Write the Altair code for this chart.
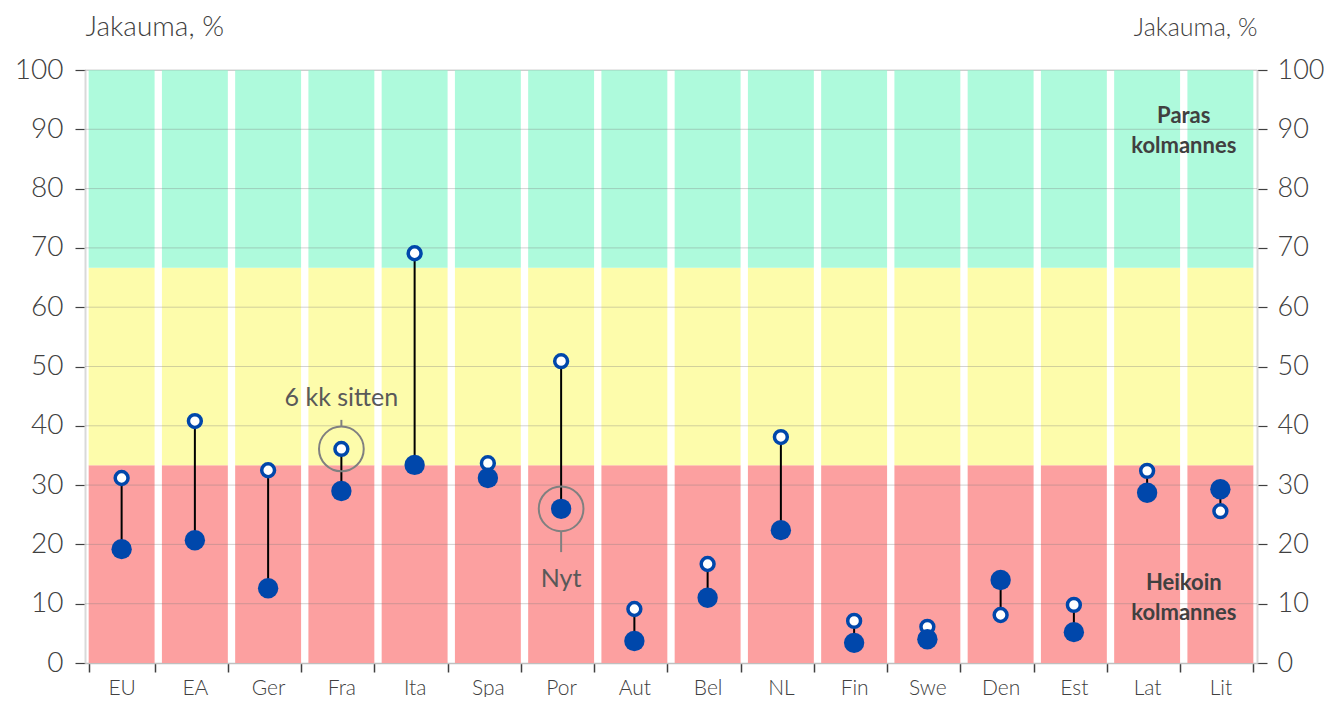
import altair as alt
import pandas as pd

cats = ["EU", "EA", "Ger", "Fra", "Ita", "Spa", "Por", "Aut", "Bel", "NL", "Fin", "Swe", "Den", "Est", "Lat", "Lit"]
old_vals = [31.2, 40.8, 32.5, 36.1, 69.1, 33.7, 50.9, 9.1, 16.7, 38.1, 7.1, 6.1, 8.1, 9.8, 32.4, 25.6]
new_vals = [19.2, 20.7, 12.6, 29.0, 33.4, 31.2, 26.0, 3.7, 11.0, 22.4, 3.4, 4.0, 14.0, 5.2, 28.7, 29.3]

band_names = ["Heikoin", "Keski", "Paras"]
band_lo = [0, 100 / 3, 200 / 3]
band_hi = [100 / 3, 200 / 3, 100]
band_colors = ["#FCA0A0", "#FDFCAB", "#AEFADC"]

grid_vals = [10, 20, 30, 40, 50, 60, 70, 80, 90, 100]
y_ticks = [0, 10, 20, 30, 40, 50, 60, 70, 80, 90, 100]

annot_cats = ["Fra", "Por"]
annot_y = [36.1, 26.0]
conn_y = [39.8, 22.2]
conn_y2 = [41.0, 18.7]
annot_text = ["6 kk sitten", "Nyt"]
annot_text_y = [43.4, 12.8]

label_text = ["Paras", "kolmannes", "Heikoin", "kolmannes"]
label_y = [91.1, 86.0, 12.3, 7.3]

FONT = "Lato"
TXT = "#404040"
BLUE = "#0047AB"

bars_df = pd.DataFrame(
    [{"cat": c, "band": b, "lo": lo, "hi": hi}
     for c in cats for b, lo, hi in zip(band_names, band_lo, band_hi)]
)
pts_df = pd.DataFrame({"cat": cats, "old": old_vals, "new": new_vals})
grid_df = pd.DataFrame({"v": grid_vals})
annot_df = pd.DataFrame({"cat": annot_cats, "y": annot_y, "c1": conn_y, "c2": conn_y2,
                         "t": annot_text, "ty": annot_text_y})
lab_df = pd.DataFrame({"cat": ["Lit"] * 4, "t": label_text, "y": label_y})

xscale = alt.Scale(domain=cats, paddingInner=0.1, paddingOuter=0.05)
yscale = alt.Scale(domain=[0, 100], nice=False, zero=True)

xaxis = alt.Axis(title=None, tickBand="extent", labelFont=FONT, labelFontSize=21,
                 labelFontWeight=300,
                 labelColor=TXT, labelPadding=5, tickSize=9, tickColor=TXT, tickWidth=1.5,
                 domainColor="#BFBFBF", domainWidth=1.5, labelAngle=0, grid=False)

X = alt.X("cat:N", sort=cats, scale=xscale, axis=xaxis)

yleft = alt.Axis(values=y_ticks, orient="left", title="Jakauma, %", titleAngle=0,
                 titleAlign="left", titleBaseline="alphabetic", titleX=0, titleY=-35,
                 titleFont=FONT, titleFontSize=28, titleFontWeight=300, titleColor=TXT,
                 labelFont=FONT, labelFontSize=28, labelFontWeight=300, labelColor=TXT,
                 labelPadding=12,
                 tickSize=10, tickColor=TXT, tickWidth=1.2,
                 domainColor="#D9D9D9", domainWidth=2, grid=False)
yright = alt.Axis(values=y_ticks, orient="right", title="Jakauma, %", titleAngle=0,
                  titleAlign="right", titleBaseline="alphabetic", titleX=0, titleY=-35,
                  titleFont=FONT, titleFontSize=25, titleFontWeight=300, titleColor=TXT,
                  labelFont=FONT, labelFontSize=27, labelFontWeight=300, labelColor=TXT,
                  labelPadding=10,
                  tickSize=10, tickColor=TXT, tickWidth=1.2,
                  domainColor="#D9D9D9", domainWidth=2, grid=False)

bars = alt.Chart(bars_df).mark_bar(opacity=1).encode(
    x=X,
    y=alt.Y("lo:Q", scale=yscale, axis=yleft),
    y2="hi:Q",
    color=alt.Color("band:N", scale=alt.Scale(domain=band_names, range=band_colors), legend=None),
)

grid = alt.Chart(grid_df).mark_rule(color="#7F7F7F", opacity=0.35, strokeWidth=1).encode(
    y=alt.Y("v:Q", scale=yscale, axis=None)
)

links = alt.Chart(pts_df).mark_rule(color="black", strokeWidth=2).encode(
    x=X, y=alt.Y("old:Q", scale=yscale, axis=None), y2="new:Q"
)

old_pts = alt.Chart(pts_df).mark_circle(fill="white", stroke=BLUE, strokeWidth=3.5,
                                        size=165, opacity=1).encode(
    x=X, y=alt.Y("old:Q", scale=yscale, axis=None)
)

new_pts = alt.Chart(pts_df).mark_circle(color=BLUE, size=415, opacity=1).encode(
    x=X, y=alt.Y("new:Q", scale=yscale, axis=yright)
)

annot_circ = alt.Chart(annot_df).mark_point(shape="circle", filled=False, stroke="#808080",
                                            strokeWidth=2, size=2000, opacity=1).encode(
    x=X, y=alt.Y("y:Q", scale=yscale, axis=None)
)
annot_conn = alt.Chart(annot_df).mark_rule(color="#808080", strokeWidth=2).encode(
    x=X, y=alt.Y("c1:Q", scale=yscale, axis=None), y2="c2:Q"
)
annot_txt = alt.Chart(annot_df).mark_text(font=FONT, fontSize=25, fontWeight="normal",
                                          color="#595959",
                                          baseline="alphabetic", align="center").encode(
    x=X, y=alt.Y("ty:Q", scale=yscale, axis=None), text="t:N"
)

band_lbl = alt.Chart(lab_df).mark_text(font=FONT, fontSize=22, fontWeight="bold", color=TXT,
                                       baseline="alphabetic", align="center", dx=-36.6).encode(
    x=X, y=alt.Y("y:Q", scale=yscale, axis=None), text="t:N"
)

chart = alt.layer(
    bars, grid, links, old_pts, new_pts, annot_circ, annot_conn, annot_txt, band_lbl
).resolve_axis(y="independent").properties(
    width=1172, height=593, autosize="none",
    padding={"left": 77, "top": 62, "right": 67, "bottom": 34},
).configure_view(stroke=None).configure(font=FONT)

chart.save("out.html", embed_options={"renderer": "svg", "actions": False})
